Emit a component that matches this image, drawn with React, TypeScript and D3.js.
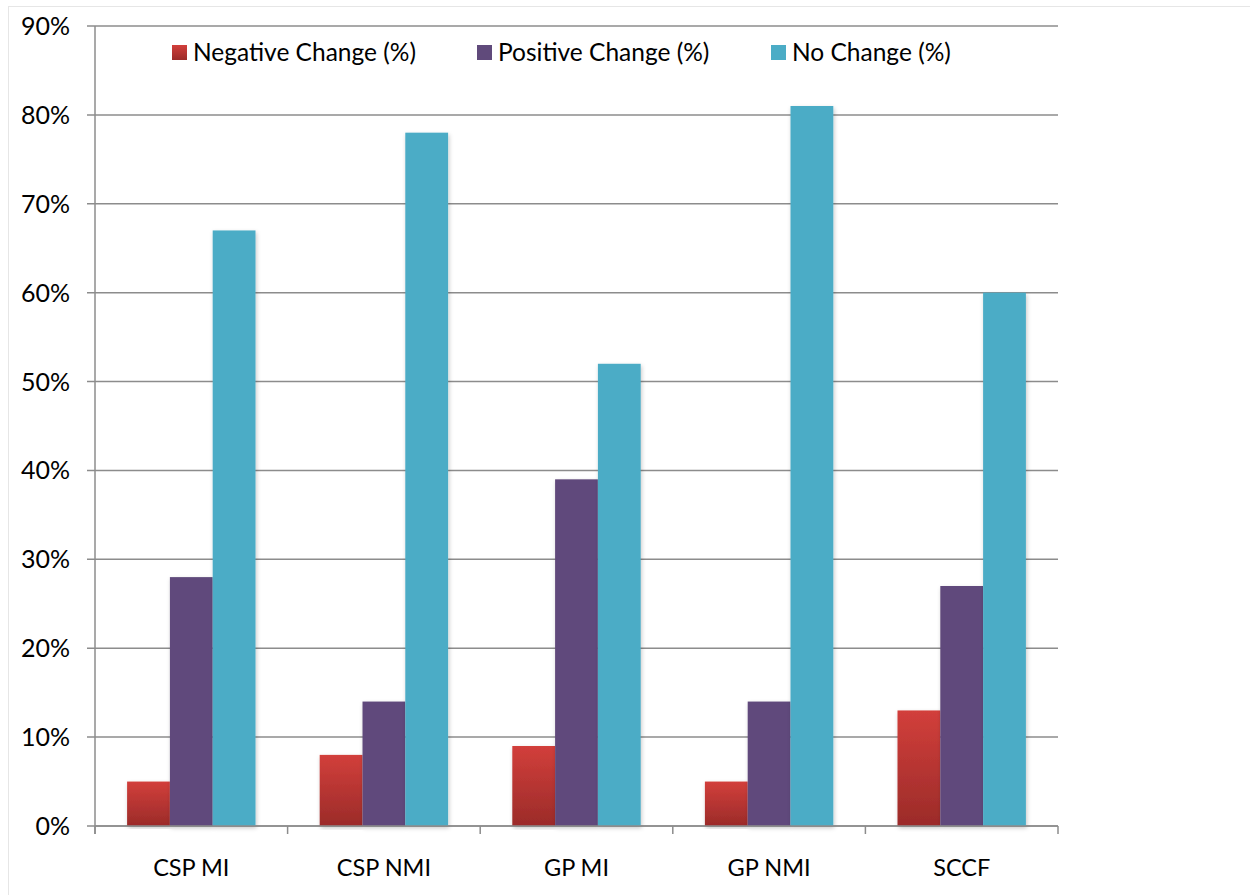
import React from "react";
import * as d3 from "d3";

const categories = ["CSP MI", "CSP NMI", "GP MI", "GP NMI", "SCCF"];
const seriesNames = ["Negative Change (%)", "Positive Change (%)", "No Change (%)"];
const negativeChange = [5, 8, 9, 5, 13];
const positiveChange = [28, 14, 39, 14, 27];
const noChange = [67, 78, 52, 81, 60];
const yTicks = [0, 10, 20, 30, 40, 50, 60, 70, 80, 90];

const W = 1250;
const H = 895;
const plot = { left: 95, right: 1058, top: 26, bottom: 826 };
const font = "Lato, 'Open Sans', sans-serif";

export default function App() {
  const series = [negativeChange, positiveChange, noChange];
  const fills = ["url(#gradRed)", "#604a7b", "#4bacc6"];
  const legendFills = ["url(#gradRed)", "#604a7b", "#4bacc6"];

  const y = d3.scaleLinear().domain([0, 90]).range([plot.bottom, plot.top]);
  const x0 = d3
    .scaleBand<string>()
    .domain(categories)
    .range([plot.left, plot.right])
    .paddingInner(0)
    .paddingOuter(0);
  const inner = d3
    .scaleBand<number>()
    .domain([0, 1, 2])
    .range([0, x0.bandwidth()])
    .paddingInner(0)
    .paddingOuter(0.75);

  const boundaries = categories.map((c) => x0(c) as number).concat([plot.right]);

  const legendX = [172, 477, 771];

  return (
    <div style={{ position: "absolute", left: 0, top: 0 }}>
      <svg width={W} height={H} style={{ display: "block", background: "#fff" }}>
        <defs>
          <linearGradient id="gradRed" x1="0" y1="0" x2="0" y2="1">
            <stop offset="0" stopColor="#d23f3b" />
            <stop offset="1" stopColor="#9b2b29" />
          </linearGradient>
          <filter id="shadow" x="-20%" y="-5%" width="140%" height="110%">
            <feDropShadow dx="1" dy="2" stdDeviation="2" floodColor="#000" floodOpacity="0.22" />
          </filter>
        </defs>

        {/* outer frame */}
        <line x1={8} x2={W} y1={6.5} y2={6.5} stroke="#e6e6e6" strokeWidth={1} />
        <line x1={8.5} x2={8.5} y1={6} y2={H} stroke="#e6e6e6" strokeWidth={1} />

        {/* gridlines */}
        {yTicks.map((t) => (
          <line
            key={"g" + t}
            x1={plot.left - 8}
            x2={plot.right}
            y1={y(t)}
            y2={y(t)}
            stroke="#8c8c8c"
            strokeWidth={1.5}
          />
        ))}

        {/* y axis */}
        <line x1={plot.left} x2={plot.left} y1={plot.top} y2={plot.bottom + 8} stroke="#8c8c8c" strokeWidth={1.5} />
        {yTicks.map((t) => (
          <text
            key={"yt" + t}
            x={70}
            y={y(t)}
            dy="0.36em"
            textAnchor="end"
            fontFamily={font}
            fontSize={25}
            fill="#000"
          >
            {t + "%"}
          </text>
        ))}

        {/* bars */}
        {categories.map((c, i) => (
          <g key={c} transform={`translate(${x0(c)},0)`}>
            {series.map((s, k) => (
              <rect
                key={k}
                x={inner(k)}
                y={y(s[i])}
                width={inner.bandwidth()}
                height={y(0) - y(s[i])}
                fill={fills[k]}
                filter="url(#shadow)"
              />
            ))}
          </g>
        ))}

        {/* x axis */}
        <line x1={plot.left} x2={plot.right} y1={plot.bottom} y2={plot.bottom} stroke="#8c8c8c" strokeWidth={1.5} />
        {boundaries.map((b, i) => (
          <line key={"xt" + i} x1={b} x2={b} y1={plot.bottom} y2={plot.bottom + 8} stroke="#8c8c8c" strokeWidth={1.5} />
        ))}
        {categories.map((c) => (
          <text
            key={"xl" + c}
            x={(x0(c) as number) + x0.bandwidth() / 2}
            y={876}
            textAnchor="middle"
            fontFamily={font}
            fontSize={23.5}
            fill="#000"
          >
            {c}
          </text>
        ))}

        {/* legend */}
        {seriesNames.map((n, k) => (
          <g key={n} transform={`translate(${legendX[k]},45)`}>
            <rect x={0} y={0} width={15} height={15} fill={legendFills[k]} />
            <text x={21} y={16} fontFamily={font} fontSize={24.5} fill="#000">
              {n}
            </text>
          </g>
        ))}
      </svg>
    </div>
  );
}
